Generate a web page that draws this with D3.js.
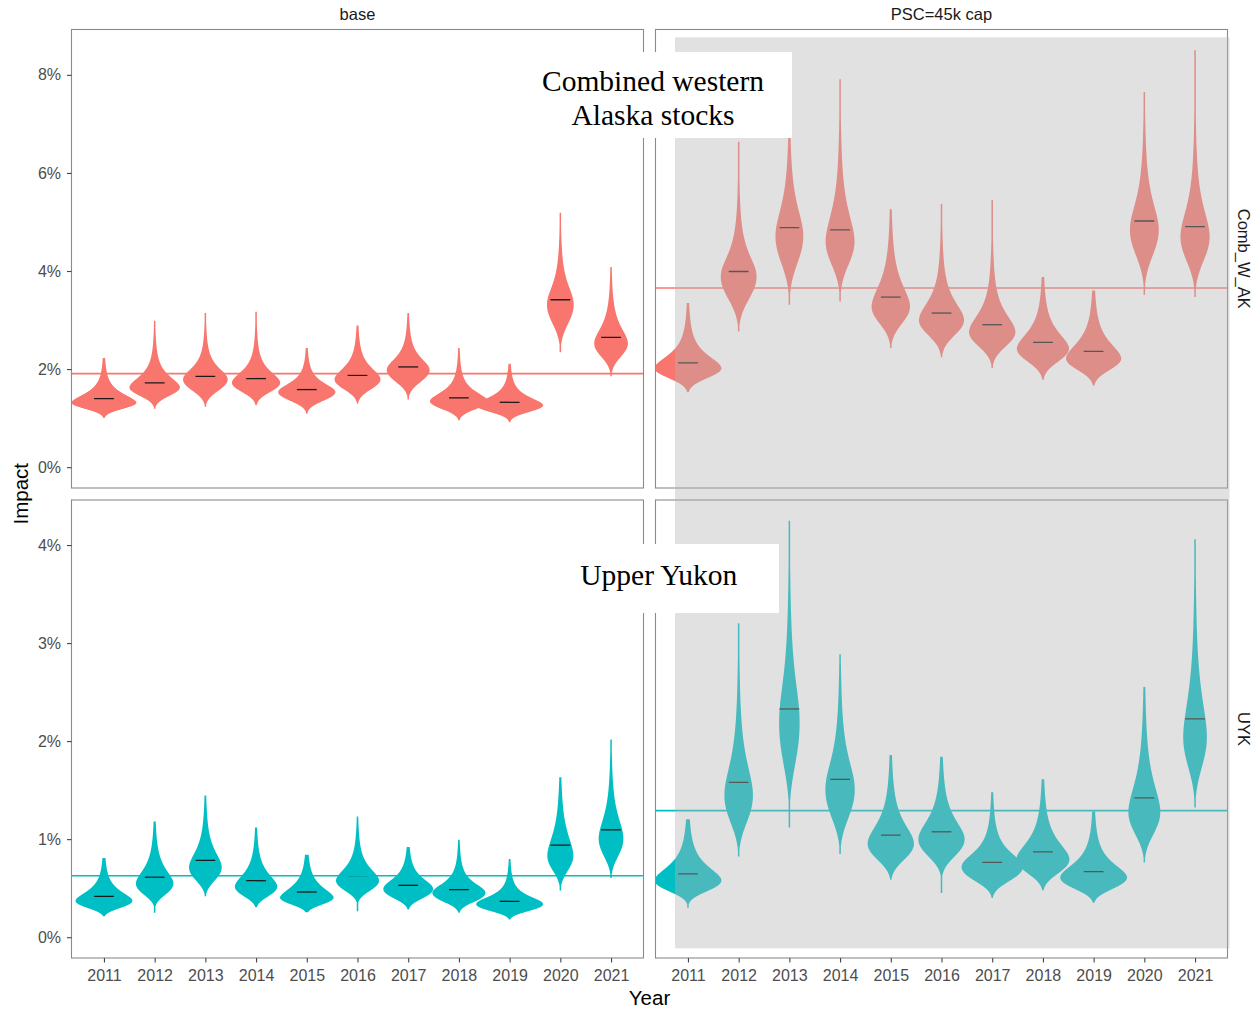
<!DOCTYPE html>
<html>
<head>
<meta charset="utf-8">
<script src="https://cdn.jsdelivr.net/npm/d3@7"></script>
<style>
  body { margin: 0; background: #ffffff; }
  svg text { font-family: "Liberation Sans", Arial, sans-serif; }
</style>
</head>
<body>
<svg id="chart" width="1260" height="1009"></svg>
<script>
// ---- categories ----
const years = ["2011", "2012", "2013", "2014", "2015", "2016", "2017", "2018", "2019", "2020", "2021"];
const scenarios = ["base", "PSC=45k cap"];
const stocks = ["Comb_W_AK", "UYK"];
const stockColors = ["#F8766D", "#00BFC4"];

// ---- tick labels (percent) ----
const combTicks = [0, 2, 4, 6, 8];
const uykTicks = [0, 1, 2, 3, 4];

// ---- overall mean impact per panel (row = stock, col = scenario), % ----
const combMean = [1.908, 3.654];
const uykMean = [0.627, 1.291];

// ---- Combined western Alaska, base: impact distribution summaries (%) ----
// sdLo / sdHi: log-scale spread below / above the peak of each distribution
const combBaseMedian = [1.398, 1.718, 1.853, 1.806, 1.582, 1.873, 2.044, 1.413, 1.323, 3.414, 2.646];
const combBaseMin    = [1.005, 1.189, 1.230, 1.262, 1.087, 1.297, 1.378, 0.957, 0.916, 2.341, 1.852];
const combBaseMax    = [2.227, 2.986, 3.143, 3.170, 2.430, 2.890, 3.143, 2.430, 2.110, 5.190, 4.080];
const combBaseSdLo   = [0.097, 0.109, 0.131, 0.113, 0.118, 0.117, 0.124, 0.122, 0.110, 0.119, 0.109];
const combBaseSdHi   = [0.157, 0.156, 0.143, 0.149, 0.132, 0.148, 0.134, 0.158, 0.148, 0.128, 0.147];

// ---- Combined western Alaska, PSC=45k cap ----
const combCapMedian = [2.125, 3.990, 4.886, 4.838, 3.468, 3.143, 2.905, 2.545, 2.360, 5.020, 4.905];
const combCapMin    = [1.527, 2.768, 3.312, 3.380, 2.430, 2.240, 2.020, 1.785, 1.663, 3.515, 3.468];
const combCapMax    = [3.346, 6.636, 7.100, 7.910, 5.260, 5.368, 5.450, 3.876, 3.600, 7.650, 8.500];
const combCapSdLo   = [0.101, 0.119, 0.119, 0.105, 0.107, 0.105, 0.109, 0.112, 0.107, 0.109, 0.106];
const combCapSdHi   = [0.147, 0.124, 0.138, 0.147, 0.159, 0.143, 0.153, 0.154, 0.166, 0.132, 0.139];

// ---- Upper Yukon, base ----
const uykBaseMedian = [0.417, 0.614, 0.783, 0.576, 0.461, 0.627, 0.529, 0.485, 0.366, 0.939, 1.095];
const uykBaseMin    = [0.214, 0.248, 0.417, 0.305, 0.254, 0.264, 0.282, 0.248, 0.180, 0.475, 0.604];
const uykBaseMax    = [0.807, 1.180, 1.444, 1.118, 0.841, 1.230, 0.919, 0.993, 0.797, 1.631, 2.017];
const uykBaseSdLo   = [0.209, 0.220, 0.198, 0.203, 0.186, 0.190, 0.204, 0.212, 0.222, 0.197, 0.188];
const uykBaseSdHi   = [0.287, 0.290, 0.254, 0.276, 0.297, 0.235, 0.227, 0.229, 0.244, 0.285, 0.236];

// ---- Upper Yukon, PSC=45k cap ----
const uykCapMedian = [0.645, 1.580, 2.328, 1.610, 1.041, 1.075, 0.763, 0.871, 0.668, 1.420, 2.227];
const uykCapMin    = [0.299, 0.824, 1.118, 0.848, 0.587, 0.451, 0.400, 0.478, 0.350, 0.763, 1.322];
const uykCapMax    = [1.204, 3.203, 4.247, 2.885, 1.858, 1.840, 1.478, 1.610, 1.281, 2.552, 4.060];
const uykCapSdLo   = [0.200, 0.200, 0.200, 0.200, 0.180, 0.180, 0.205, 0.188, 0.200, 0.186, 0.156];
const uykCapSdHi   = [0.272, 0.244, 0.212, 0.217, 0.236, 0.219, 0.216, 0.248, 0.251, 0.263, 0.224];

const panels = [
  { row: 0, col: 0, median: combBaseMedian, min: combBaseMin, max: combBaseMax, sdLo: combBaseSdLo, sdHi: combBaseSdHi, mean: combMean[0] },
  { row: 0, col: 1, median: combCapMedian,  min: combCapMin,  max: combCapMax,  sdLo: combCapSdLo,  sdHi: combCapSdHi,  mean: combMean[1] },
  { row: 1, col: 0, median: uykBaseMedian,  min: uykBaseMin,  max: uykBaseMax,  sdLo: uykBaseSdLo,  sdHi: uykBaseSdHi,  mean: uykMean[0] },
  { row: 1, col: 1, median: uykCapMedian,   min: uykCapMin,   max: uykCapMax,   sdLo: uykCapSdLo,   sdHi: uykCapSdHi,   mean: uykMean[1] }
];

// ---- layout ----
const colX = [[71.5, 643.5], [655.5, 1227.5]];
const rowY = [[29.5, 488], [500, 958]];
const rowTicks = [combTicks, uykTicks];

const svg = d3.select("#chart");

// y scales shared along each row, data range from 0 to row max, padded 5%
const yScales = [0, 1].map(r => {
  const rowPanels = panels.filter(p => p.row === r);
  const top = d3.max(rowPanels, p => d3.max(p.max));
  const pad = top * 0.05;
  return d3.scaleLinear().domain([-pad, top + pad]).range([rowY[r][1], rowY[r][0]]);
});

// ---- density helpers: two-piece log-scale distribution ----
function Phi(z) {
  const t = 1 / (1 + 0.3275911 * Math.abs(z) / Math.SQRT2);
  const e = 1 - (((((1.061405429 * t - 1.453152027) * t) + 1.421413741) * t - 0.284496736) * t + 0.254829592) * t * Math.exp(-z * z / 2);
  return z >= 0 ? 0.5 * (1 + e) : 0.5 * (1 - e);
}
function peakFromMedian(med, sl, sh) {
  const a = 1.2533 * sl, b = 1.4142 * sh, tot = a + b;
  const F = u => u < 0 ? (a / tot) * 2 * Phi(u / sl)
                       : a / tot + (b / tot) * ((u / sh) / Math.sqrt(2 + (u / sh) * (u / sh)));
  let lo = -2, hi = 2;
  for (let i = 0; i < 60; i++) { const m = (lo + hi) / 2; if (F(m) < 0.5) lo = m; else hi = m; }
  return med * Math.exp(-(lo + hi) / 2);
}
function densityAt(v, peak, sl, sh) {
  const u = Math.log(v / peak);
  const g = u < 0 ? Math.exp(-0.5 * (u / sl) * (u / sl)) : Math.pow(1 + (u / sh) * (u / sh) / 2, -1.5);
  return g / (v * (1.2533 * sl + 1.4142 * sh));
}

// ---- panels ----
panels.forEach((p, pi) => {
  const [x0, x1] = colX[p.col];
  const [y0, y1] = rowY[p.row];
  const x = d3.scalePoint().domain(years).range([x0, x1]).padding(0.64);
  const y = yScales[p.row];
  const color = stockColors[p.row];

  const g = svg.append("g");
  g.append("rect").attr("x", x0).attr("y", y0).attr("width", x1 - x0).attr("height", y1 - y0).attr("fill", "#ffffff");

  const clipId = "clip" + pi;
  svg.append("clipPath").attr("id", clipId)
    .append("rect").attr("x", x0).attr("y", y0).attr("width", x1 - x0).attr("height", y1 - y0);
  const inner = g.append("g").attr("clip-path", `url(#${clipId})`);

  // density profiles
  const violins = years.map((yr, i) => {
    const lo = p.min[i], hi = p.max[i], sl = p.sdLo[i], sh = p.sdHi[i];
    const peak = peakFromMedian(p.median[i], sl, sh);
    const vals = d3.range(0, 301).map(k => lo + (hi - lo) * k / 300);
    if (peak > lo && peak < hi) vals.push(peak);
    vals.sort((a, b) => a - b);
    return { year: yr, pts: vals.map(v => ({ v, f: densityAt(v, peak, sl, sh) })) };
  });
  const fmax = d3.max(violins, vi => d3.max(vi.pts, d => d.f));
  const halfMax = 0.66 * x.step();
  const wScale = d3.scaleLinear().domain([0, fmax]).range([0, halfMax]);

  violins.forEach(vi => {
    const cx = x(vi.year);
    const area = d3.area()
      .x0(d => cx - Math.max(0.75, wScale(d.f)))
      .x1(d => cx + Math.max(0.75, wScale(d.f)))
      .y(d => y(d.v));
    inner.append("path").datum(vi.pts).attr("d", area).attr("fill", color);
  });

  // medians
  const mw = 0.195 * x.step();
  inner.selectAll("line.med").data(years).join("line")
    .attr("x1", d => x(d) - mw).attr("x2", d => x(d) + mw)
    .attr("y1", (d, i) => y(p.median[i])).attr("y2", (d, i) => y(p.median[i]))
    .attr("stroke", "#1a1a1a").attr("stroke-width", 1.3);

  // overall mean line
  inner.append("line")
    .attr("x1", x0).attr("x2", x1).attr("y1", y(p.mean)).attr("y2", y(p.mean))
    .attr("stroke", color).attr("stroke-width", 1.6);

  // border
  g.append("rect").attr("x", x0).attr("y", y0).attr("width", x1 - x0).attr("height", y1 - y0)
    .attr("fill", "none").attr("stroke", "#8a8a8a").attr("stroke-width", 1.1);

  // axes
  if (p.col === 0) {
    const ax = g.append("g").attr("transform", `translate(${x0},0)`)
      .call(d3.axisLeft(y).tickValues(rowTicks[p.row]).tickFormat(d => d + "%").tickSize(4.5).tickPadding(6));
    ax.select(".domain").remove();
    ax.selectAll("line").attr("stroke", "#444").attr("stroke-width", 1.1);
    ax.selectAll("text").attr("fill", "#4d4d4d").style("font-size", "16px");
  }
  if (p.row === 1) {
    const ax = g.append("g").attr("transform", `translate(0,${y1})`)
      .call(d3.axisBottom(x).tickSize(4.5).tickPadding(7));
    ax.select(".domain").remove();
    ax.selectAll("line").attr("stroke", "#444").attr("stroke-width", 1.1);
    ax.selectAll("text").attr("fill", "#4d4d4d").style("font-size", "16px");
  }
});

// strip labels
scenarios.forEach((s, c) => {
  svg.append("text").attr("x", (colX[c][0] + colX[c][1]) / 2).attr("y", 20)
    .attr("text-anchor", "middle").attr("fill", "#1a1a1a").style("font-size", "16.5px").text(s);
});
stocks.forEach((s, r) => {
  const cy = (rowY[r][0] + rowY[r][1]) / 2;
  svg.append("text").attr("transform", `translate(1238,${cy}) rotate(90)`)
    .attr("text-anchor", "middle").attr("fill", "#1a1a1a").style("font-size", "16.5px").text(s);
});

// axis titles
svg.append("text").attr("transform", `translate(27.5,${(rowY[0][0] + rowY[1][1]) / 2}) rotate(-90)`)
  .attr("text-anchor", "middle").attr("fill", "#000").style("font-size", "20.5px").text("Impact");
svg.append("text").attr("x", (colX[0][0] + colX[1][1]) / 2).attr("y", 1005)
  .attr("text-anchor", "middle").attr("fill", "#000").style("font-size", "20.5px").text("Year");

// shaded highlight over the capped scenario
svg.append("rect").attr("x", 675).attr("y", 37.3).attr("width", 554.5).attr("height", 911)
  .attr("fill", "rgb(180,180,180)").attr("fill-opacity", 0.4);

// stock name callouts
svg.append("rect").attr("x", 515).attr("y", 52).attr("width", 277).attr("height", 86).attr("fill", "#ffffff");
const t1 = svg.append("text").attr("text-anchor", "middle").attr("fill", "#000")
  .style("font-family", "'Liberation Serif', 'Times New Roman', serif").style("font-size", "29.5px");
t1.append("tspan").attr("x", 653).attr("y", 90.5).text("Combined western");
t1.append("tspan").attr("x", 653).attr("y", 125).text("Alaska stocks");

svg.append("rect").attr("x", 539).attr("y", 544).attr("width", 240).attr("height", 69).attr("fill", "#ffffff");
svg.append("text").attr("x", 658.8).attr("y", 584.5).attr("text-anchor", "middle").attr("fill", "#000")
  .style("font-family", "'Liberation Serif', 'Times New Roman', serif").style("font-size", "29.5px")
  .text("Upper Yukon");
</script>
</body>
</html>
